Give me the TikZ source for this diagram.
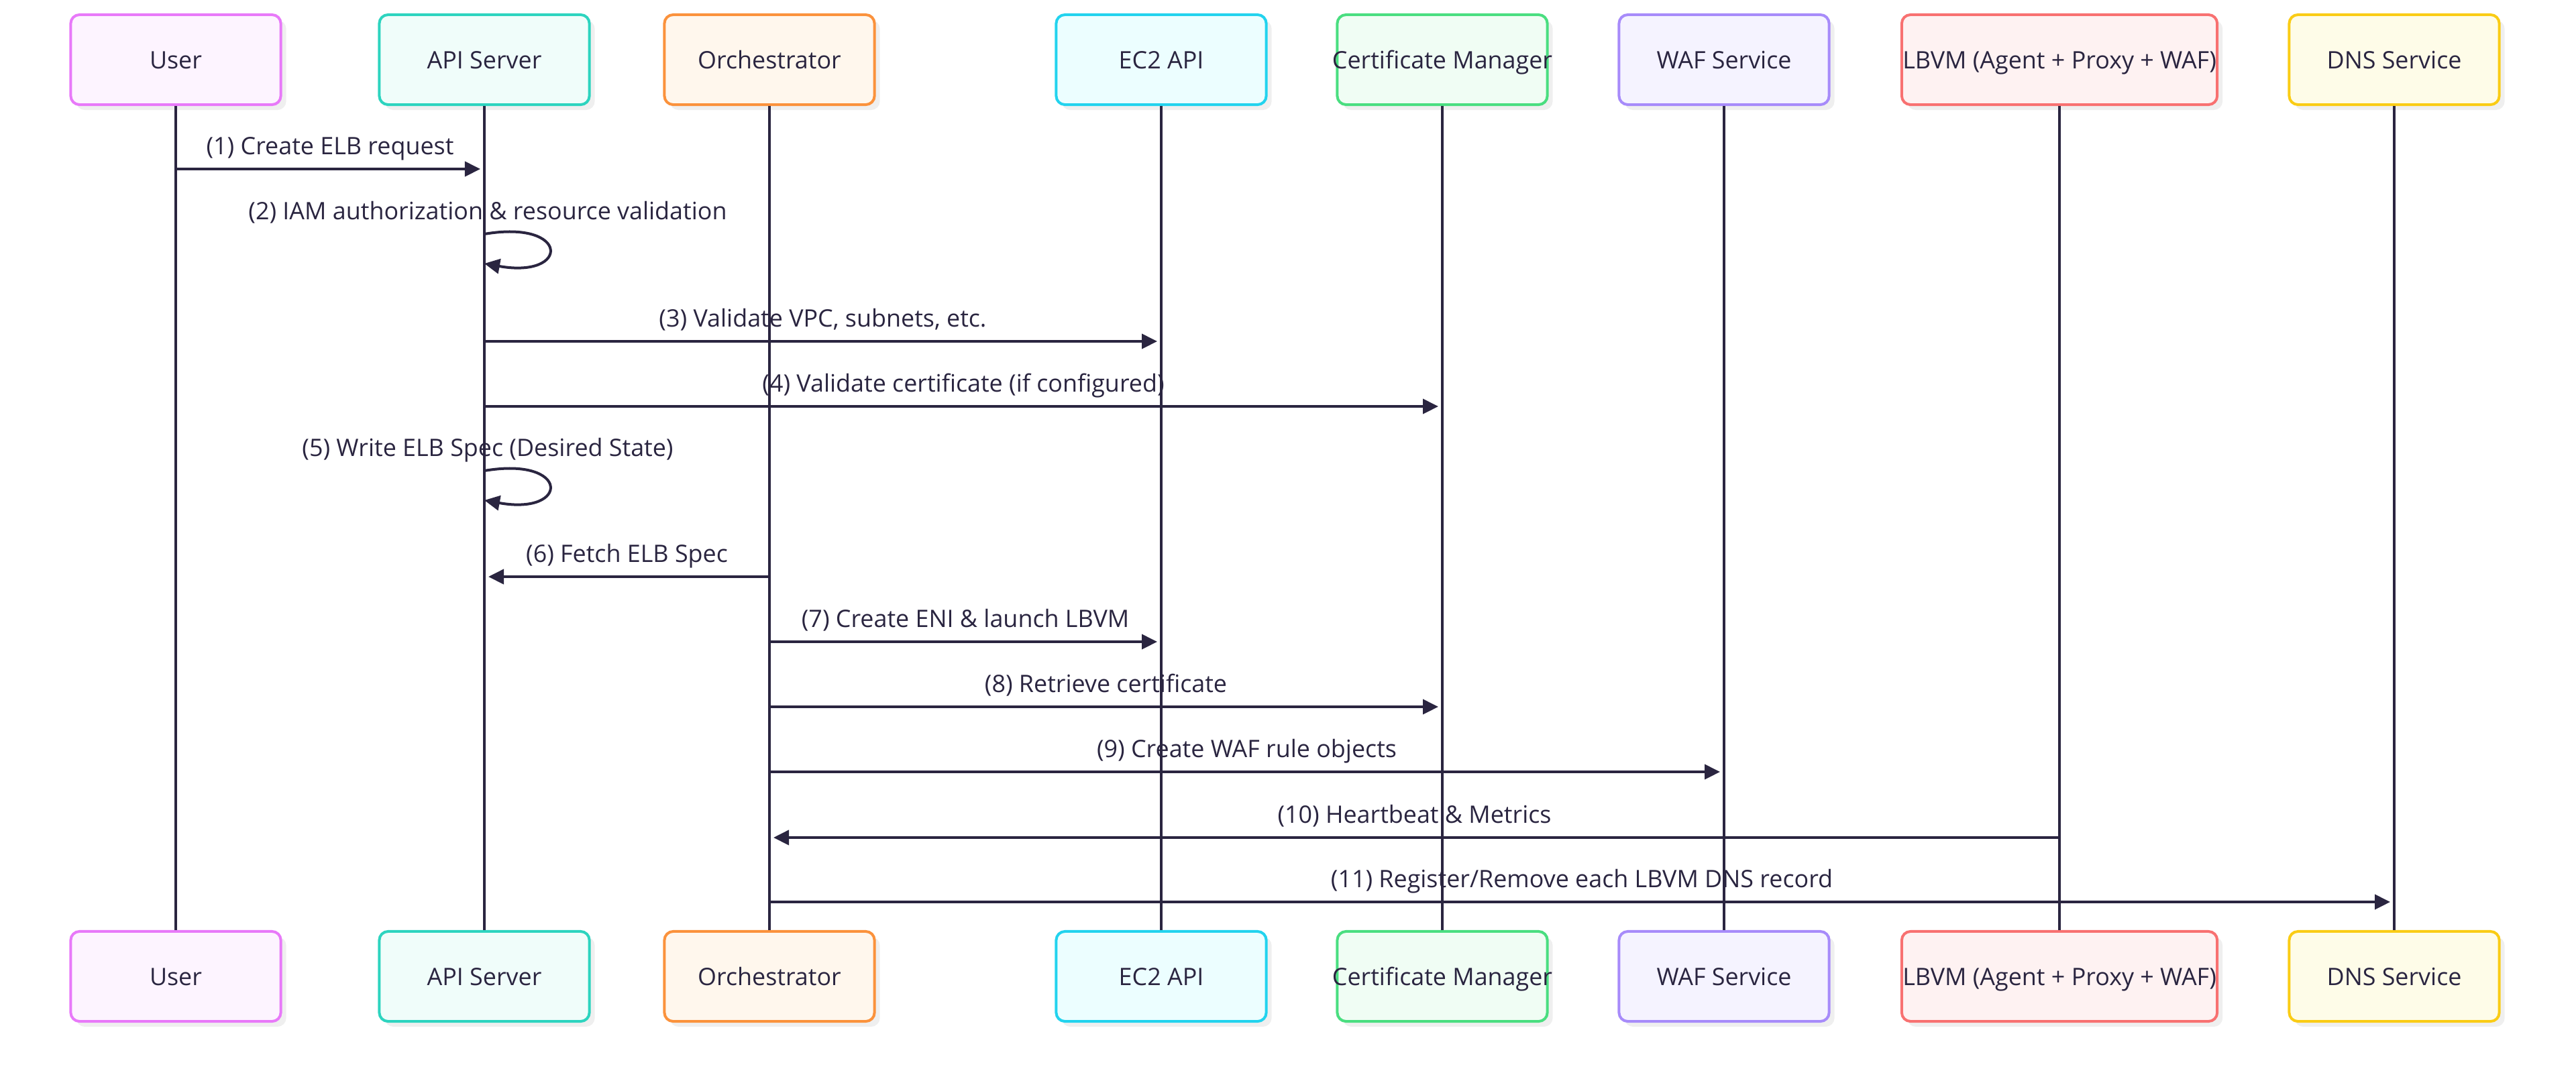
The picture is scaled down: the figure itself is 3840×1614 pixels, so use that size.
\documentclass[tikz,border=0pt]{standalone}
\usepackage{fontspec}
\setmainfont{Open Sans}
\usetikzlibrary{arrows.meta,shadows,calc}

\definecolor{ink}{HTML}{2A2540}
\definecolor{shade}{HTML}{EFEFEF}
\definecolor{cU}{HTML}{E879F9}\definecolor{fU}{HTML}{FDF4FF}
\definecolor{cA}{HTML}{2DD4BF}\definecolor{fA}{HTML}{F0FDFA}
\definecolor{cO}{HTML}{FB923C}\definecolor{fO}{HTML}{FFF7ED}
\definecolor{cE}{HTML}{22D3EE}\definecolor{fE}{HTML}{ECFEFF}
\definecolor{cC}{HTML}{4ADE80}\definecolor{fC}{HTML}{F0FDF4}
\definecolor{cW}{HTML}{A78BFA}\definecolor{fW}{HTML}{F5F3FF}
\definecolor{cL}{HTML}{F87171}\definecolor{fL}{HTML}{FEF2F2}
\definecolor{cD}{HTML}{FACC15}\definecolor{fD}{HTML}{FEFCE8}

% participant label that may overhang its box without widening it
\newcommand{\plabel}[1]{\makebox[0pt][c]{#1}}

\begin{document}
\begin{tikzpicture}[x=0.01cm, y=-0.01cm,
  font=\fontsize{10.2pt}{12pt}\selectfont,
  actor/.style={draw, rounded corners=0.13cm, line width=0.04cm,
    minimum width=3.13cm, minimum height=1.34cm, inner sep=0pt,
    text height=0.26cm, text depth=0pt, text=ink,
    drop shadow={shadow xshift=0.08cm, shadow yshift=-0.08cm, fill=shade, opacity=1}},
  life/.style={ink, line width=0.04cm},
  msg/.style={ink, line width=0.04cm, -{Triangle[length=0.23cm, width=0.22cm]},
    shorten >=0.06cm},
  selfmsg/.style={ink, line width=0.04cm, -{Triangle[length=0.23cm, width=0.22cm]}},
  lbl/.style={anchor=base, text=ink, inner sep=0pt, yshift=0.22cm}]

\useasboundingbox (0,0) rectangle (3840,1614);

% participants, top row
\node[actor, draw=cU, fill=fU] (tU) at (262,89)  {\plabel{User}};
\node[actor, draw=cA, fill=fA] (tA) at (722,89)  {\plabel{API Server}};
\node[actor, draw=cO, fill=fO] (tO) at (1147,89) {\plabel{Orchestrator}};
\node[actor, draw=cE, fill=fE] (tE) at (1731,89) {\plabel{EC2 API}};
\node[actor, draw=cC, fill=fC] (tC) at (2150,89) {\plabel{Certificate Manager}};
\node[actor, draw=cW, fill=fW] (tW) at (2570,89) {\plabel{WAF Service}};
\node[actor, draw=cL, fill=fL, minimum width=4.70cm] (tL) at (3070,89) {\plabel{LBVM (Agent + Proxy + WAF)}};
\node[actor, draw=cD, fill=fD] (tD) at (3569,89) {\plabel{DNS Service}};

% participants, bottom row
\node[actor, draw=cU, fill=fU] (bU) at (262,1456)  {\plabel{User}};
\node[actor, draw=cA, fill=fA] (bA) at (722,1456)  {\plabel{API Server}};
\node[actor, draw=cO, fill=fO] (bO) at (1147,1456) {\plabel{Orchestrator}};
\node[actor, draw=cE, fill=fE] (bE) at (1731,1456) {\plabel{EC2 API}};
\node[actor, draw=cC, fill=fC] (bC) at (2150,1456) {\plabel{Certificate Manager}};
\node[actor, draw=cW, fill=fW] (bW) at (2570,1456) {\plabel{WAF Service}};
\node[actor, draw=cL, fill=fL, minimum width=4.70cm] (bL) at (3070,1456) {\plabel{LBVM (Agent + Proxy + WAF)}};
\node[actor, draw=cD, fill=fD] (bD) at (3569,1456) {\plabel{DNS Service}};

% lifelines
\foreach \p in {U,A,O,E,C,W,L,D}
  \draw[life] (t\p.south) -- (b\p.north);

% message rows
\coordinate (r1)  at (0,252);
\coordinate (r2)  at (0,349);
\coordinate (r3)  at (0,509);
\coordinate (r4)  at (0,606);
\coordinate (r5)  at (0,702);
\coordinate (r6)  at (0,860);
\coordinate (r7)  at (0,957);
\coordinate (r8)  at (0,1054);
\coordinate (r9)  at (0,1151);
\coordinate (r10) at (0,1249);
\coordinate (r11) at (0,1345);

\draw[msg] (tU |- r1) -- node[lbl] {(1) Create ELB request} (tA |- r1);

\coordinate (s2) at (tA |- r2);
\draw[selfmsg] (s2) .. controls ($(s2)+(128,-22)$) and ($(s2)+(128,67)$) .. ($(s2)+(0,44)$);
\node[lbl] at ($(s2)+(5,0)$) {(2) IAM authorization \& resource validation};

\draw[msg] (tA |- r3) -- node[lbl] {(3) Validate VPC, subnets, etc.} (tE |- r3);
\draw[msg] (tA |- r4) -- node[lbl] {(4) Validate certificate (if configured)} (tC |- r4);

\coordinate (s5) at (tA |- r5);
\draw[selfmsg] (s5) .. controls ($(s5)+(128,-22)$) and ($(s5)+(128,67)$) .. ($(s5)+(0,44)$);
\node[lbl] at ($(s5)+(5,0)$) {(5) Write ELB Spec (Desired State)};

\draw[msg] (tO |- r6) -- node[lbl] {(6) Fetch ELB Spec} (tA |- r6);
\draw[msg] (tO |- r7) -- node[lbl] {(7) Create ENI \& launch LBVM} (tE |- r7);
\draw[msg] (tO |- r8) -- node[lbl] {(8) Retrieve certificate} (tC |- r8);
\draw[msg] (tO |- r9) -- node[lbl] {(9) Create WAF rule objects} (tW |- r9);
\draw[msg] (tL |- r10) -- node[lbl] {(10) Heartbeat \& Metrics} (tO |- r10);
\draw[msg] (tO |- r11) -- node[lbl] {(11) Register/Remove each LBVM DNS record} (tD |- r11);

\end{tikzpicture}
\end{document}
